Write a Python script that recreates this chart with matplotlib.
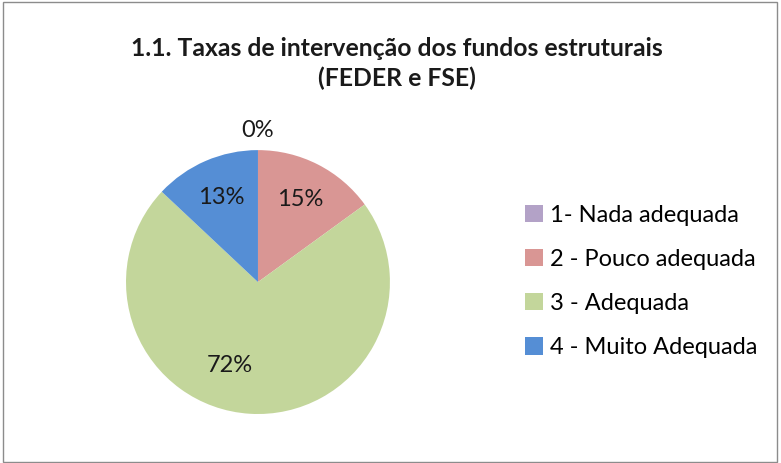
import matplotlib
matplotlib.use("Agg")
import matplotlib.pyplot as plt
from matplotlib.patches import Rectangle

title = "1.1. Taxas de intervenção dos fundos estruturais\n(FEDER e FSE)"
categories = ["1- Nada adequada", "2 - Pouco adequada", "3 - Adequada", "4 - Muito Adequada"]
values = [0, 15, 72, 13]
colors = ["#B3A2C7", "#D99694", "#C3D69B", "#558ED5"]

plt.rcParams['font.family'] = ['Lato', 'DejaVu Sans']

fig = plt.figure(figsize=(7.81, 4.63), dpi=100)
fig.patches.append(Rectangle((0.004, 0.003), 0.991, 0.992, transform=fig.transFigure,
                             fill=False, edgecolor="#8c8c8c", linewidth=1))

ax = fig.add_axes([0.1613, 0.1058, 0.338, 0.570])
wedges, texts, autotexts = ax.pie(values, colors=colors, startangle=90, counterclock=False,
                                  autopct=lambda p: "{:.0f}%".format(p), pctdistance=0.7,
                                  textprops={'fontsize': 17, 'color': '#1a1a1a'})
ax.set_aspect('equal')
ax.set_xlim(-1, 1)
ax.set_ylim(-1, 1)

# the 0% label sits above the pie
autotexts[0].set_position((0, 1.15))
autotexts[2].set_position((-0.21, -0.63))

fig.text(0.508, 0.862, title, ha='center', va='center', fontsize=17.8, fontweight='bold',
         linespacing=1.33, color='#1a1a1a')

fig.legend(wedges, categories, loc='center left', bbox_to_anchor=(0.672, 0.392),
           frameon=False, fontsize=17, labelspacing=0.98, handlelength=0.75,
           handleheight=0.75, handletextpad=0.3, borderaxespad=0, borderpad=0)

fig.savefig("out.png", dpi=100)
